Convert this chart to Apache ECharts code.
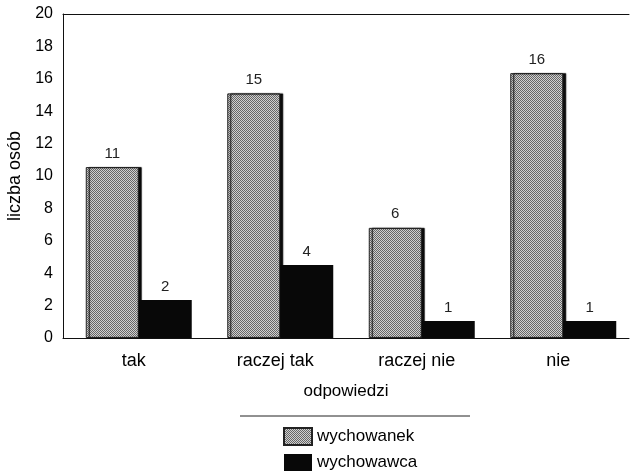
<!DOCTYPE html>
<html>
<head>
<meta charset="utf-8">
<script src="https://cdn.jsdelivr.net/npm/echarts@6/dist/echarts.min.js"></script>
<style>html,body{margin:0;padding:0;background:#fff}#c{width:633px;height:476px}</style>
</head>
<body>
<div id="c"></div>
<script>
const categories = ['tak', 'raczej tak', 'raczej nie', 'nie'];
const seriesNames = ['wychowanek', 'wychowawca'];
// bar heights as drawn in the picture
const wychowanekValues = [10.55, 15.1, 6.8, 16.35];
const wychowawcaValues = [2.35, 4.5, 1.05, 1.05];
// numbers printed above the bars
const wychowanekLabels = [11, 15, 6, 16];
const wychowawcaLabels = [2, 4, 1, 1];
const spacerValues = [0, 0, 0, 0];
const yTicks = [0, 2, 4, 6, 8, 10, 12, 14, 16, 18, 20];

const FONT = "'Liberation Sans Narrow', 'Liberation Sans', sans-serif";

// dithered grey texture
const pat = document.createElement('canvas');
pat.width = 2; pat.height = 2;
const pctx = pat.getContext('2d');
pctx.fillStyle = '#d0d0d0'; pctx.fillRect(0, 0, 2, 2);
pctx.fillStyle = '#666666'; pctx.fillRect(0, 0, 1, 1); pctx.fillRect(1, 1, 1, 1);

const chart = echarts.init(document.getElementById('c'), null, {renderer: 'canvas'});
chart.setOption({
  animation: false,
  backgroundColor: '#fff',
  textStyle: {fontFamily: FONT, color: '#000'},
  grid: {left: 63, right: 4, top: 14, bottom: 138, containLabel: false, outerBoundsMode: 'none'},
  legend: {
    data: seriesNames,
    orient: 'vertical',
    left: 278, top: 422, height: 60,
    icon: 'rect', itemWidth: 28, itemHeight: 17, itemGap: 8,
    textStyle: {fontFamily: FONT, fontSize: 17, color: '#000'}
  },
  graphic: [{
    type: 'line', shape: {x1: 240, y1: 416, x2: 470, y2: 416},
    style: {stroke: '#222', lineWidth: 1}
  }],
  xAxis: [{
    type: 'category', data: categories, position: 'bottom',
    axisLine: {lineStyle: {color: '#111', width: 1}},
    axisTick: {show: false},
    axisLabel: {fontFamily: FONT, fontSize: 18, color: '#000', margin: 14},
    name: 'odpowiedzi', nameLocation: 'middle', nameGap: 45,
    nameTextStyle: {fontFamily: FONT, fontSize: 17, color: '#000'}
  }, {
    type: 'category', data: categories, position: 'top',
    axisLine: {lineStyle: {color: '#111', width: 1}},
    axisTick: {show: false}, axisLabel: {show: false}
  }],
  yAxis: {
    type: 'value', min: yTicks[0], max: yTicks[yTicks.length - 1], interval: 2,
    axisLine: {show: true, lineStyle: {color: '#111', width: 1}},
    axisTick: {show: false},
    splitLine: {show: false},
    axisLabel: {fontFamily: FONT, fontSize: 16, color: '#000', margin: 10},
    name: 'liczba osób', nameLocation: 'middle', nameGap: 36,
    nameTextStyle: {fontFamily: FONT, fontSize: 18, color: '#000'}
  },
  series: [{
    name: 'spacer', type: 'bar', data: spacerValues, barWidth: 10, barGap: 0,
    silent: true, itemStyle: {color: 'rgba(0,0,0,0)'}, legendHoverLink: false
  }, {
    name: seriesNames[0], type: 'bar', data: wychowanekValues, barWidth: 53, barGap: 0,
    itemStyle: {
      color: {image: pat, repeat: 'repeat'},
      borderColor: '#222', borderWidth: 1,
      shadowColor: 'rgba(0,0,0,0.95)', shadowOffsetX: 3, shadowOffsetY: 0, shadowBlur: 1
    },
    label: {
      show: true, position: 'top', distance: 6,
      fontFamily: FONT, fontSize: 15, color: '#222',
      formatter: p => String(wychowanekLabels[p.dataIndex])
    }
  }, {
    name: seriesNames[1], type: 'bar', data: wychowawcaValues, barWidth: 53, barGap: 0,
    itemStyle: {color: '#080808', borderColor: '#111', borderWidth: 0},
    label: {
      show: true, position: 'top', distance: 6,
      fontFamily: FONT, fontSize: 15, color: '#222',
      formatter: p => String(wychowawcaLabels[p.dataIndex])
    }
  }]
});
</script>
</body>
</html>
